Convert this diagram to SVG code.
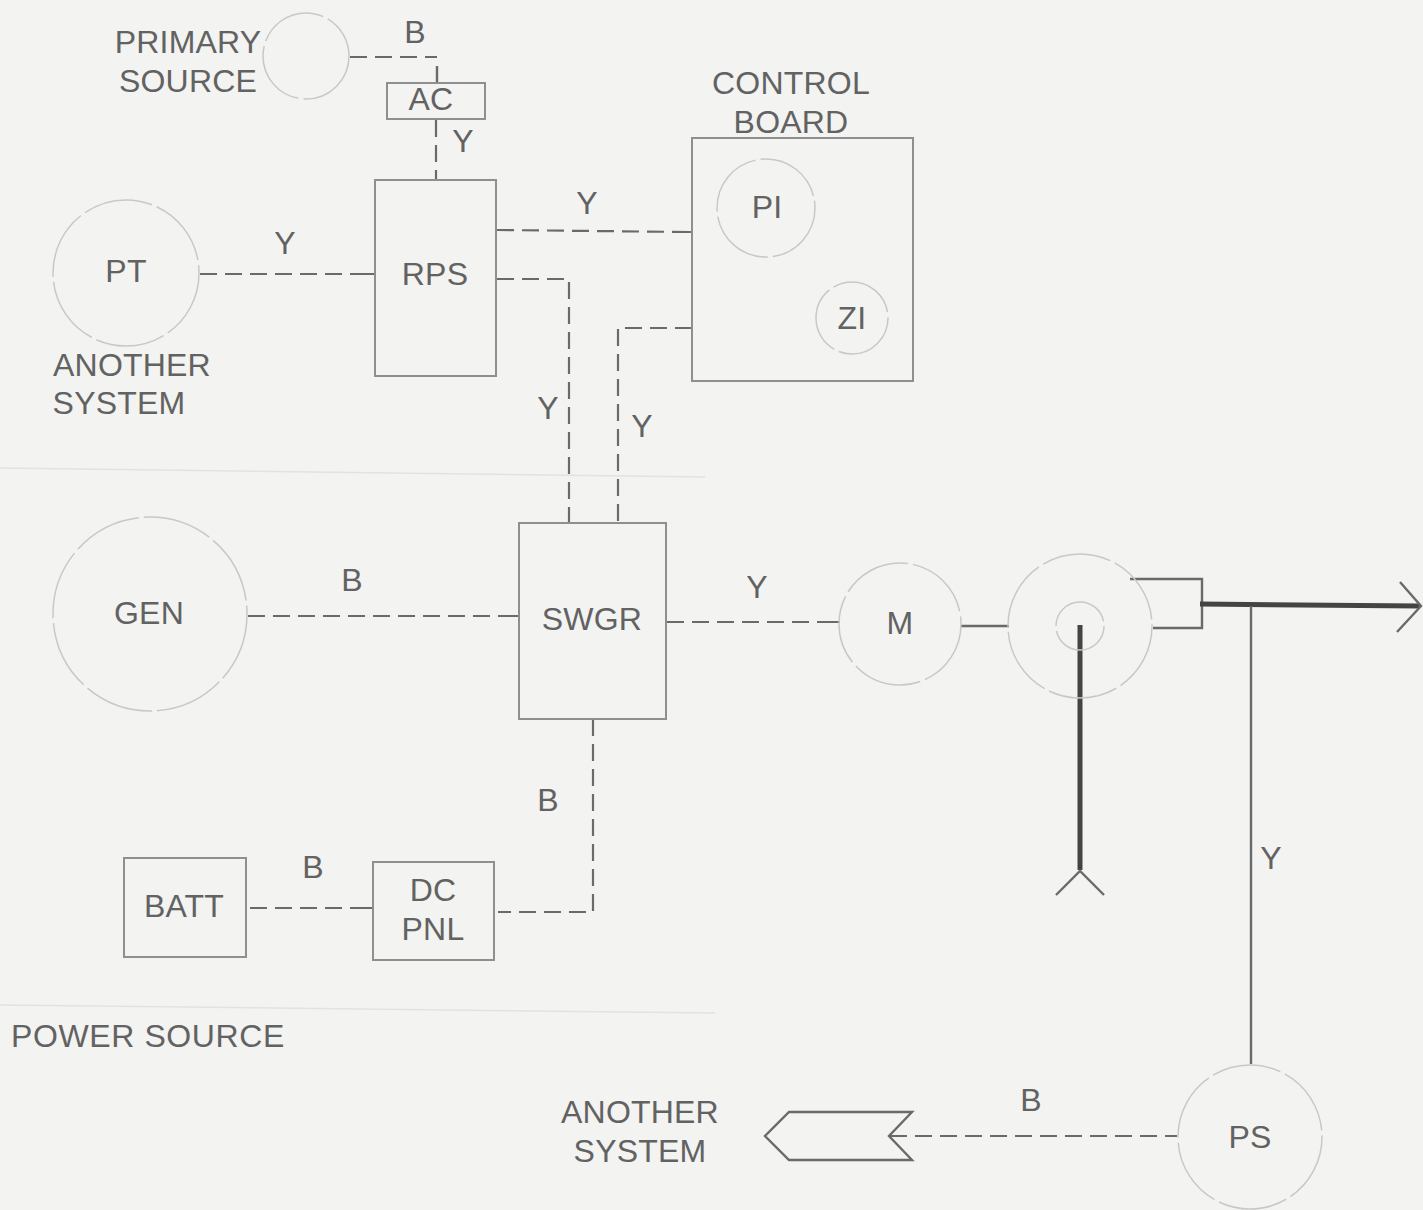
<svg xmlns="http://www.w3.org/2000/svg" width="1423" height="1210" viewBox="0 0 1423 1210">
<style>
text{font-family:"Liberation Sans",Arial,sans-serif;font-size:32px;fill:#626262;text-anchor:middle;letter-spacing:.2px}
.box{fill:none;stroke:#8f8f8f;stroke-width:2}
.circ{fill:none;stroke:#c8c8c8;stroke-width:1.5;stroke-dasharray:70 5}
.dash{fill:none;stroke:#6a6a6a;stroke-width:2.2;stroke-dasharray:17 8}
.solid{fill:none;stroke:#6a6a6a;stroke-width:2.4}
.thick{fill:none;stroke:#444;stroke-width:5}
.sep{fill:none;stroke:#e2e2e2;stroke-width:1.5}
</style>
<rect width="1423" height="1210" fill="#f3f3f1"/>
<g id="separators">
<path class="sep" d="M0 468L705 477"/>
<path class="sep" d="M0 1005L715 1013"/>
</g>
<g id="connectors">
<path class="dash" d="M350 57H437"/>
<path class="solid" d="M437 66V83" stroke-width="1.6"/>
<path class="dash" d="M436 120V180"/>
<path class="dash" d="M200 274H367M367 274H375"/>
<path class="dash" d="M497 230L689 232M689 232H692"/>
<path class="dash" d="M497 279H569V523"/>
<path class="dash" d="M692 328H618V523"/>
<path class="dash" d="M248 616H515M515 616H519"/>
<path class="dash" d="M667 622H834M834 622H840"/>
<path class="dash" d="M593 719V912H498"/>
<path class="dash" d="M250 908H367M367 908H372"/>
<path class="dash" d="M890 1136H1177"/>
<path class="solid" d="M961 626H1009"/>
<path class="solid" d="M1130 579H1202V628H1153"/>
<path class="thick" d="M1200 604L1420 606"/>
<path class="solid" d="M1400 582L1421 606L1397 632" stroke-width="3"/>
<path class="solid" d="M1251 606V1064"/>
<path class="thick" d="M1080 625V870" stroke-width="4.5"/>
<path class="solid" d="M1056 895L1080 871L1104 895" stroke-width="3"/>
</g>
<g id="primary-source"><circle class="circ" cx="306" cy="56" r="43"/><text x="188" y="53">PRIMARY</text><text x="188" y="92">SOURCE</text></g>
<g id="ac"><rect class="box" x="387" y="83" width="98" height="36"/><text x="431" y="110">AC</text></g>
<g id="rps"><rect class="box" x="375" y="180" width="121" height="196"/><text x="435" y="285">RPS</text></g>
<g id="pt"><circle class="circ" cx="126" cy="273" r="73"/><text x="126" y="282">PT</text><text x="132" y="376">ANOTHER</text><text x="119" y="414">SYSTEM</text></g>
<g id="control-board"><rect class="box" x="692" y="138" width="221" height="243"/><text x="791" y="94">CONTROL</text><text x="791" y="133">BOARD</text></g>
<g id="pi"><circle class="circ" cx="766" cy="208" r="49"/><text x="767" y="218">PI</text></g>
<g id="zi"><circle class="circ" cx="852" cy="318" r="36"/><text x="852" y="329">ZI</text></g>
<g id="gen"><circle class="circ" cx="150" cy="614" r="97"/><text x="149" y="624">GEN</text></g>
<g id="swgr"><rect class="box" x="519" y="523" width="147" height="196"/><text x="592" y="630">SWGR</text></g>
<g id="m"><circle class="circ" cx="900" cy="624" r="61"/><text x="900" y="634">M</text></g>
<g id="valve"><circle class="circ" cx="1080" cy="626" r="72"/><circle class="circ" cx="1080" cy="626" r="24"/></g>
<g id="batt"><rect class="box" x="124" y="858" width="122" height="99"/><text x="184" y="917">BATT</text></g>
<g id="dc-pnl"><rect class="box" x="373" y="862" width="121" height="98"/><text x="433" y="901">DC</text><text x="433" y="940">PNL</text></g>
<g id="ps"><circle class="circ" cx="1250" cy="1137" r="72"/><text x="1250" y="1148">PS</text></g>
<g id="another-system-off"><path class="solid" d="M912 1112H789L765 1136L789 1160H912L889 1136Z"/><text x="640" y="1123">ANOTHER</text><text x="640" y="1162">SYSTEM</text></g>
<g id="labels">
<text x="415" y="43">B</text>
<text x="463" y="152">Y</text>
<text x="587" y="214">Y</text>
<text x="285" y="254">Y</text>
<text x="548" y="419">Y</text>
<text x="642" y="437">Y</text>
<text x="352" y="591">B</text>
<text x="757" y="598">Y</text>
<text x="548" y="811">B</text>
<text x="313" y="878">B</text>
<text x="1271" y="869">Y</text>
<text x="1031" y="1111">B</text>
<text x="148" y="1047" style="letter-spacing:.6px">POWER SOURCE</text>
</g>
</svg>
